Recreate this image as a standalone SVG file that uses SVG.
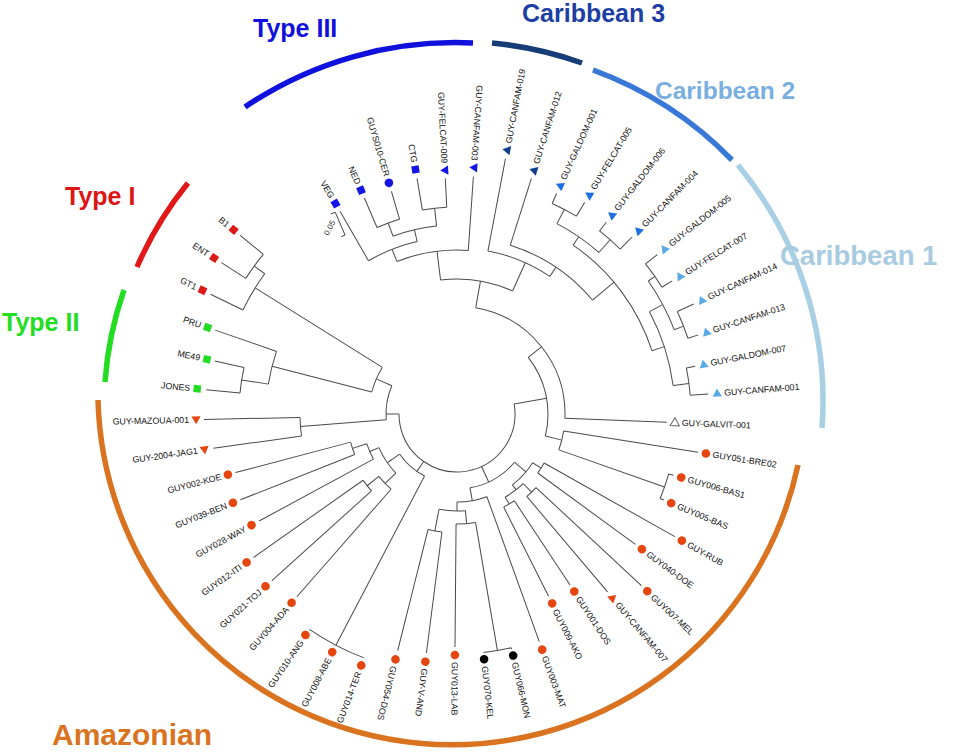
<svg xmlns="http://www.w3.org/2000/svg" xmlns:xlink="http://www.w3.org/1999/xlink" width="957" height="756" viewBox="0 0 957 756">
<style>
text{font-family:"Liberation Sans",Arial,sans-serif}
.lb{font-size:8.8px;fill:#111}
.fl{text-anchor:end}
#connectors line,#connectors circle{fill:none;stroke:#4a4a4a;stroke-width:1}
.t3{fill:#1414e6}.c3{fill:#123f8c}.c2{fill:#1f6ee0}.c1{fill:#5aaae6}.am{fill:#e5450f}.bk{fill:#000}.t1{fill:#dd1a1a}.t2{fill:#22dd22}
.op{fill:none;stroke:#666;stroke-width:1}
.clade{fill:none;stroke-width:5.5}
.cl{font-weight:bold;font-size:25px}
</style>
<defs>
<rect id="sq" x="-3.7" y="-3.7" width="7.4" height="7.4"/>
<circle id="dot" r="4.3"/>
<path id="tri" d="M0,-4.7 L4.6,3.3 L-4.6,3.3Z"/>
</defs>
<rect width="957" height="756" fill="#fff"/>
<g transform="translate(457,414)">
<g id="connectors">
<circle r="58" pathLength="360" stroke-dasharray="190 360" transform="rotate(-10)"/>
<line x1="58" x2="91" transform="rotate(-10)"/>
<line x1="58" x2="71" transform="rotate(180)"/>
<line x1="58" x2="75" transform="rotate(65)"/>
<line x1="58" x2="70" transform="rotate(125)"/>
<circle r="91" pathLength="360" stroke-dasharray="52.5 360" transform="rotate(-38.5)"/>
<line x1="91" x2="108" transform="rotate(-38.5)"/>
<line x1="91" x2="108" transform="rotate(14)"/>
<circle r="108" pathLength="360" stroke-dasharray="82.22 360" transform="rotate(-80)"/>
<line x1="108" x2="210" transform="rotate(2.22)"/>
<line x1="108" x2="135" transform="rotate(-80)"/>
<circle r="135" pathLength="360" stroke-dasharray="31.3 360" transform="rotate(-97)"/>
<line x1="135" x2="164" transform="rotate(-97)"/>
<line x1="135" x2="166" transform="rotate(-65.7)"/>
<circle r="164" pathLength="360" stroke-dasharray="25.45 360" transform="rotate(-111.5)"/>
<line x1="164" x2="177" transform="rotate(-111.5)"/>
<line x1="164" x2="238" transform="rotate(-86.05)"/>
<circle r="177" pathLength="360" stroke-dasharray="17 360" transform="rotate(-120)"/>
<line x1="177" x2="234" transform="rotate(-120)"/>
<line x1="177" x2="189" transform="rotate(-103)"/>
<circle r="189" pathLength="360" stroke-dasharray="13.6 360" transform="rotate(-109.8)"/>
<line x1="189" x2="203" transform="rotate(-109.8)"/>
<line x1="189" x2="207" transform="rotate(-96.2)"/>
<circle r="203" pathLength="360" stroke-dasharray="6.79 360" transform="rotate(-113.21)"/>
<line x1="203" x2="235" transform="rotate(-113.21)"/>
<line x1="203" x2="232" transform="rotate(-106.42)"/>
<circle r="207" pathLength="360" stroke-dasharray="6.79 360" transform="rotate(-99.63)"/>
<line x1="207" x2="239" transform="rotate(-99.63)"/>
<line x1="207" x2="236" transform="rotate(-92.84)"/>
<circle r="166" pathLength="360" stroke-dasharray="23.26 360" transform="rotate(-79.26)"/>
<line x1="166" x2="260" transform="rotate(-79.26)"/>
<line x1="166" x2="177" transform="rotate(-56)"/>
<circle r="177" pathLength="360" stroke-dasharray="32.47 360" transform="rotate(-72.47)"/>
<line x1="177" x2="247" transform="rotate(-72.47)"/>
<line x1="177" x2="205" transform="rotate(-40)"/>
<circle r="205" pathLength="360" stroke-dasharray="37.5 360" transform="rotate(-55.5)"/>
<line x1="205" x2="215" transform="rotate(-55.5)"/>
<line x1="205" x2="218" transform="rotate(-18)"/>
<circle r="215" pathLength="360" stroke-dasharray="13.6 360" transform="rotate(-62.3)"/>
<line x1="215" x2="231" transform="rotate(-62.3)"/>
<line x1="215" x2="232" transform="rotate(-48.7)"/>
<circle r="231" pathLength="360" stroke-dasharray="6.79 360" transform="rotate(-65.68)"/>
<line x1="231" x2="242" transform="rotate(-65.68)"/>
<line x1="231" x2="247" transform="rotate(-58.89)"/>
<circle r="232" pathLength="360" stroke-dasharray="6.79 360" transform="rotate(-52.1)"/>
<line x1="232" x2="243" transform="rotate(-52.1)"/>
<line x1="232" x2="249" transform="rotate(-45.31)"/>
<circle r="218" pathLength="360" stroke-dasharray="20.5 360" transform="rotate(-28)"/>
<line x1="218" x2="233" transform="rotate(-28)"/>
<line x1="218" x2="234" transform="rotate(-7.5)"/>
<circle r="233" pathLength="360" stroke-dasharray="13.6 360" transform="rotate(-34.8)"/>
<line x1="233" x2="241" transform="rotate(-34.8)"/>
<line x1="233" x2="243" transform="rotate(-21.2)"/>
<circle r="241" pathLength="360" stroke-dasharray="6.79 360" transform="rotate(-38.52)"/>
<line x1="241" x2="256" transform="rotate(-38.52)"/>
<line x1="241" x2="253" transform="rotate(-31.73)"/>
<circle r="243" pathLength="360" stroke-dasharray="6.79 360" transform="rotate(-24.94)"/>
<line x1="243" x2="261" transform="rotate(-24.94)"/>
<line x1="243" x2="254" transform="rotate(-18.15)"/>
<circle r="234" pathLength="360" stroke-dasharray="6.79 360" transform="rotate(-11.36)"/>
<line x1="234" x2="243" transform="rotate(-11.36)"/>
<line x1="234" x2="252" transform="rotate(-4.57)"/>
<circle r="108" pathLength="360" stroke-dasharray="10.39 360" transform="rotate(9.01)"/>
<line x1="108" x2="244" transform="rotate(9.01)"/>
<line x1="108" x2="220" transform="rotate(19.4)"/>
<circle r="220" pathLength="360" stroke-dasharray="6.79 360" transform="rotate(15.8)"/>
<line x1="220" x2="225" transform="rotate(15.8)"/>
<line x1="220" x2="224" transform="rotate(22.59)"/>
<circle r="75" pathLength="360" stroke-dasharray="40 360" transform="rotate(40)"/>
<line x1="75" x2="90" transform="rotate(40)"/>
<line x1="75" x2="88" transform="rotate(80)"/>
<circle r="90" pathLength="360" stroke-dasharray="19.2 360" transform="rotate(32.8)"/>
<line x1="90" x2="100" transform="rotate(32.8)"/>
<line x1="90" x2="96" transform="rotate(52)"/>
<circle r="100" pathLength="360" stroke-dasharray="6.79 360" transform="rotate(29.38)"/>
<line x1="100" x2="250" transform="rotate(29.38)"/>
<line x1="100" x2="221" transform="rotate(36.17)"/>
<circle r="96" pathLength="360" stroke-dasharray="13.5 360" transform="rotate(46.4)"/>
<line x1="96" x2="108" transform="rotate(46.4)"/>
<line x1="96" x2="104" transform="rotate(59.9)"/>
<circle r="108" pathLength="360" stroke-dasharray="6.79 360" transform="rotate(42.96)"/>
<line x1="108" x2="252" transform="rotate(42.96)"/>
<line x1="108" x2="233" transform="rotate(49.75)"/>
<circle r="104" pathLength="360" stroke-dasharray="6.79 360" transform="rotate(56.54)"/>
<line x1="104" x2="205" transform="rotate(56.54)"/>
<line x1="104" x2="204" transform="rotate(63.33)"/>
<circle r="88" pathLength="360" stroke-dasharray="19.88 360" transform="rotate(70.12)"/>
<line x1="88" x2="242" transform="rotate(70.12)"/>
<line x1="88" x2="97" transform="rotate(90)"/>
<circle r="97" pathLength="360" stroke-dasharray="15.7 360" transform="rotate(85)"/>
<line x1="97" x2="110" transform="rotate(85)"/>
<line x1="97" x2="119" transform="rotate(100.7)"/>
<circle r="110" pathLength="360" stroke-dasharray="10.19 360" transform="rotate(80.3)"/>
<line x1="110" x2="240" transform="rotate(80.3)"/>
<line x1="110" x2="233" transform="rotate(90.49)"/>
<circle r="240" pathLength="360" stroke-dasharray="6.79 360" transform="rotate(76.91)"/>
<line x1="240" x2="241.5" transform="rotate(76.91)"/>
<circle r="119" pathLength="360" stroke-dasharray="6.79 360" transform="rotate(97.28)"/>
<line x1="119" x2="241" transform="rotate(97.28)"/>
<line x1="119" x2="244" transform="rotate(104.07)"/>
<circle r="70" pathLength="360" stroke-dasharray="27.35 360" transform="rotate(117.65)"/>
<line x1="70" x2="261" transform="rotate(117.65)"/>
<line x1="70" x2="85" transform="rotate(145)"/>
<circle r="261" pathLength="360" stroke-dasharray="13.58 360" transform="rotate(110.86)"/>
<circle r="85" pathLength="360" stroke-dasharray="20.7 360" transform="rotate(136)"/>
<line x1="85" x2="100" transform="rotate(136)"/>
<line x1="85" x2="95" transform="rotate(156.7)"/>
<circle r="100" pathLength="360" stroke-dasharray="10.17 360" transform="rotate(131.23)"/>
<line x1="100" x2="243" transform="rotate(131.23)"/>
<line x1="100" x2="115" transform="rotate(141.4)"/>
<circle r="115" pathLength="360" stroke-dasharray="6.79 360" transform="rotate(138.02)"/>
<line x1="115" x2="249" transform="rotate(138.02)"/>
<line x1="115" x2="249" transform="rotate(144.81)"/>
<circle r="95" pathLength="360" stroke-dasharray="10.2 360" transform="rotate(151.6)"/>
<line x1="95" x2="225" transform="rotate(151.6)"/>
<line x1="95" x2="110" transform="rotate(161.8)"/>
<circle r="110" pathLength="360" stroke-dasharray="6.79 360" transform="rotate(158.39)"/>
<line x1="110" x2="233" transform="rotate(158.39)"/>
<line x1="110" x2="229" transform="rotate(165.18)"/>
<circle r="71" pathLength="360" stroke-dasharray="28.1 360" transform="rotate(175.4)"/>
<line x1="71" x2="157" transform="rotate(175.4)"/>
<line x1="71" x2="88" transform="rotate(203.5)"/>
<circle r="157" pathLength="360" stroke-dasharray="6.79 360" transform="rotate(171.97)"/>
<line x1="157" x2="246" transform="rotate(171.97)"/>
<line x1="157" x2="253" transform="rotate(178.76)"/>
<circle r="88" pathLength="360" stroke-dasharray="17.5 360" transform="rotate(194.5)"/>
<line x1="88" x2="191" transform="rotate(194.5)"/>
<line x1="88" x2="238" transform="rotate(212)"/>
<circle r="191" pathLength="360" stroke-dasharray="10.13 360" transform="rotate(189)"/>
<line x1="191" x2="218" transform="rotate(189)"/>
<line x1="191" x2="256" transform="rotate(199.13)"/>
<circle r="218" pathLength="360" stroke-dasharray="6.79 360" transform="rotate(185.55)"/>
<line x1="218" x2="252" transform="rotate(185.55)"/>
<line x1="218" x2="248" transform="rotate(192.34)"/>
<circle r="238" pathLength="360" stroke-dasharray="10.18 360" transform="rotate(205.92)"/>
<line x1="238" x2="274" transform="rotate(205.92)"/>
<line x1="238" x2="251" transform="rotate(216.1)"/>
<circle r="251" pathLength="360" stroke-dasharray="6.79 360" transform="rotate(212.71)"/>
<line x1="251" x2="280" transform="rotate(212.71)"/>
<line x1="251" x2="281" transform="rotate(219.5)"/>
</g>
<g id="leaf-VEG" transform="rotate(-120)"><use xlink:href="#sq" x="243" class="t3"/><text class="lb fl" transform="translate(250,0) rotate(180)" dy="0.35em">VEG</text></g>
<g id="leaf-NED" transform="rotate(-113.21)"><use xlink:href="#sq" x="243.5" class="t3"/><text class="lb fl" transform="translate(250.5,0) rotate(180)" dy="0.35em">NED</text></g>
<g id="leaf-CER" transform="rotate(-106.42)"><use xlink:href="#dot" x="241" class="t3"/><text class="lb fl" transform="translate(248,0) rotate(180)" dy="0.35em">GUYS010-CER</text></g>
<g id="leaf-CTG" transform="rotate(-99.63)"><use xlink:href="#sq" x="248" class="t3"/><text class="lb fl" transform="translate(255,0) rotate(180)" dy="0.35em">CTG</text></g>
<g id="leaf-FELCAT009" transform="rotate(-92.84)"><use xlink:href="#tri" x="244" class="t3"/><text class="lb fl" transform="translate(251,0) rotate(180)" dy="0.35em">GUY-FELCAT-009</text></g>
<g id="leaf-CANFAM003" transform="rotate(-86.05)"><use xlink:href="#tri" x="247" class="t3"/><text class="lb fl" transform="translate(254,0) rotate(180)" dy="0.35em">GUY-CANFAM-003</text></g>
<g id="leaf-CANFAM019" transform="rotate(-79.26)"><use xlink:href="#tri" x="268.7" class="c3"/><text class="lb" x="275.7" dy="0.35em">GUY-CANFAM-019</text></g>
<g id="leaf-CANFAM012" transform="rotate(-72.47)"><use xlink:href="#tri" x="255.5" class="c3"/><text class="lb" x="262.5" dy="0.35em">GUY-CANFAM-012</text></g>
<g id="leaf-GALDOM001" transform="rotate(-65.68)"><use xlink:href="#tri" x="250.5" class="c2"/><text class="lb" x="257.5" dy="0.35em">GUY-GALDOM-001</text></g>
<g id="leaf-FELCAT005" transform="rotate(-58.89)"><use xlink:href="#tri" x="255.8" class="c2"/><text class="lb" x="262.8" dy="0.35em">GUY-FELCAT-005</text></g>
<g id="leaf-GALDOM006" transform="rotate(-52.1)"><use xlink:href="#tri" x="252" class="c2"/><text class="lb" x="259" dy="0.35em">GUY-GALDOM-006</text></g>
<g id="leaf-CANFAM004" transform="rotate(-45.31)"><use xlink:href="#tri" x="258" class="c2"/><text class="lb" x="265" dy="0.35em">GUY-CANFAM-004</text></g>
<g id="leaf-GALDOM005" transform="rotate(-38.52)"><use xlink:href="#tri" x="265" class="c1"/><text class="lb" x="272" dy="0.35em">GUY-GALDOM-005</text></g>
<g id="leaf-FELCAT007" transform="rotate(-31.73)"><use xlink:href="#tri" x="262" class="c1"/><text class="lb" x="269" dy="0.35em">GUY-FELCAT-007</text></g>
<g id="leaf-CANFAM014" transform="rotate(-24.94)"><use xlink:href="#tri" x="270" class="c1"/><text class="lb" x="277" dy="0.35em">GUY-CANFAM-014</text></g>
<g id="leaf-CANFAM013" transform="rotate(-18.15)"><use xlink:href="#tri" x="262.5" class="c1"/><text class="lb" x="269.5" dy="0.35em">GUY-CANFAM-013</text></g>
<g id="leaf-GALDOM007" transform="rotate(-11.36)"><use xlink:href="#tri" x="251.6" class="c1"/><text class="lb" x="258.6" dy="0.35em">GUY-GALDOM-007</text></g>
<g id="leaf-CANFAM001" transform="rotate(-4.57)"><use xlink:href="#tri" x="261" class="c1"/><text class="lb" x="268" dy="0.35em">GUY-CANFAM-001</text></g>
<g id="leaf-GALVIT001" transform="rotate(2.22)"><use xlink:href="#tri" x="218" class="op"/><text class="lb" x="225" dy="0.35em">GUY-GALVIT-001</text></g>
<g id="leaf-BRE02" transform="rotate(9.01)"><use xlink:href="#dot" x="252" class="am"/><text class="lb" x="259" dy="0.35em">GUY051-BRE02</text></g>
<g id="leaf-BAS1" transform="rotate(15.8)"><use xlink:href="#dot" x="233" class="am"/><text class="lb" x="240" dy="0.35em">GUY006-BAS1</text></g>
<g id="leaf-BAS" transform="rotate(22.59)"><use xlink:href="#dot" x="232" class="am"/><text class="lb" x="239" dy="0.35em">GUY005-BAS</text></g>
<g id="leaf-RUB" transform="rotate(29.38)"><use xlink:href="#dot" x="258" class="am"/><text class="lb" x="265" dy="0.35em">GUY-RUB</text></g>
<g id="leaf-DOE" transform="rotate(36.17)"><use xlink:href="#dot" x="229" class="am"/><text class="lb" x="236" dy="0.35em">GUY040-DOE</text></g>
<g id="leaf-MEL" transform="rotate(42.96)"><use xlink:href="#dot" x="260" class="am"/><text class="lb" x="267" dy="0.35em">GUY007-MEL</text></g>
<g id="leaf-CANFAM007" transform="rotate(49.75)"><use xlink:href="#tri" x="241" class="am"/><text class="lb" x="248" dy="0.35em">GUY-CANFAM-007</text></g>
<g id="leaf-DOS01" transform="rotate(56.54)"><use xlink:href="#dot" x="212.7" class="am"/><text class="lb" x="219.7" dy="0.35em">GUY001-DOS</text></g>
<g id="leaf-AKO" transform="rotate(63.33)"><use xlink:href="#dot" x="212" class="am"/><text class="lb" x="219" dy="0.35em">GUY009-AKO</text></g>
<g id="leaf-MAT" transform="rotate(70.12)"><use xlink:href="#dot" x="250.6" class="am"/><text class="lb" x="257.6" dy="0.35em">GUY003-MAT</text></g>
<g id="leaf-MON" transform="rotate(76.91)"><use xlink:href="#dot" x="248" class="bk"/><text class="lb" x="255" dy="0.35em">GUY066-MON</text></g>
<g id="leaf-KEL" transform="rotate(83.7)"><use xlink:href="#dot" x="246.7" class="bk"/><text class="lb" x="253.7" dy="0.35em">GUY070-KEL</text></g>
<g id="leaf-LAB" transform="rotate(90.49)"><use xlink:href="#dot" x="241" class="am"/><text class="lb" x="248" dy="0.35em">GUY013-LAB</text></g>
<g id="leaf-VAND" transform="rotate(97.28)"><use xlink:href="#dot" x="249.7" class="am"/><text class="lb" x="256.7" dy="0.35em">GUY-V-AND</text></g>
<g id="leaf-DOS54" transform="rotate(104.07)"><use xlink:href="#dot" x="253" class="am"/><text class="lb" x="260" dy="0.35em">GUY054-DOS</text></g>
<g id="leaf-TER" transform="rotate(110.86)"><use xlink:href="#dot" x="269" class="am"/><text class="lb fl" transform="translate(276,0) rotate(180)" dy="0.35em">GUY014-TER</text></g>
<g id="leaf-ABE" transform="rotate(117.65)"><use xlink:href="#dot" x="268.8" class="am"/><text class="lb fl" transform="translate(275.8,0) rotate(180)" dy="0.35em">GUY008-ABE</text></g>
<g id="leaf-ANG" transform="rotate(124.44)"><use xlink:href="#dot" x="268" class="am"/><text class="lb fl" transform="translate(275,0) rotate(180)" dy="0.35em">GUY010-ANG</text></g>
<g id="leaf-ADA" transform="rotate(131.23)"><use xlink:href="#dot" x="251" class="am"/><text class="lb fl" transform="translate(258,0) rotate(180)" dy="0.35em">GUY004-ADA</text></g>
<g id="leaf-TOJ" transform="rotate(138.02)"><use xlink:href="#dot" x="257.6" class="am"/><text class="lb fl" transform="translate(264.6,0) rotate(180)" dy="0.35em">GUY021-TOJ</text></g>
<g id="leaf-ITI" transform="rotate(144.81)"><use xlink:href="#dot" x="257.5" class="am"/><text class="lb fl" transform="translate(264.5,0) rotate(180)" dy="0.35em">GUY012-ITI</text></g>
<g id="leaf-WAY" transform="rotate(151.6)"><use xlink:href="#dot" x="233.6" class="am"/><text class="lb fl" transform="translate(240.6,0) rotate(180)" dy="0.35em">GUY028-WAY</text></g>
<g id="leaf-BEN" transform="rotate(158.39)"><use xlink:href="#dot" x="241" class="am"/><text class="lb fl" transform="translate(248,0) rotate(180)" dy="0.35em">GUY039-BEN</text></g>
<g id="leaf-KOE" transform="rotate(165.18)"><use xlink:href="#dot" x="237" class="am"/><text class="lb fl" transform="translate(244,0) rotate(180)" dy="0.35em">GUY002-KOE</text></g>
<g id="leaf-JAG1" transform="rotate(171.97)"><use xlink:href="#tri" x="255" class="am"/><text class="lb fl" transform="translate(262,0) rotate(180)" dy="0.35em">GUY-2004-JAG1</text></g>
<g id="leaf-MAZOUA" transform="rotate(178.76)"><use xlink:href="#tri" x="261" class="am"/><text class="lb fl" transform="translate(268,0) rotate(180)" dy="0.35em">GUY-MAZOUA-001</text></g>
<g id="leaf-JONES" transform="rotate(185.55)"><use xlink:href="#sq" x="261" class="t2"/><text class="lb fl" transform="translate(268,0) rotate(180)" dy="0.35em">JONES</text></g>
<g id="leaf-ME49" transform="rotate(192.34)"><use xlink:href="#sq" x="256" class="t2"/><text class="lb fl" transform="translate(263,0) rotate(180)" dy="0.35em">ME49</text></g>
<g id="leaf-PRU" transform="rotate(199.13)"><use xlink:href="#sq" x="264" class="t2"/><text class="lb fl" transform="translate(271,0) rotate(180)" dy="0.35em">PRU</text></g>
<g id="leaf-GT1" transform="rotate(205.92)"><use xlink:href="#sq" x="283" class="t1"/><text class="lb fl" transform="translate(290,0) rotate(180)" dy="0.35em">GT1</text></g>
<g id="leaf-ENT" transform="rotate(212.71)"><use xlink:href="#sq" x="288.7" class="t1"/><text class="lb fl" transform="translate(295.7,0) rotate(180)" dy="0.35em">ENT</text></g>
<g id="leaf-B1" transform="rotate(219.5)"><use xlink:href="#sq" x="289.5" class="t1"/><text class="lb fl" transform="translate(296.5,0) rotate(180)" dy="0.35em">B1</text></g>
</g>
<g id="scale-bar">
<path d="M330.7,214 L335.3,212.3 L345,235 L341.3,236.7" fill="none" stroke="#444" stroke-width="1"/>
<text x="332" y="229" font-size="8" fill="#333" text-anchor="middle" transform="rotate(-62 332 229)">0.05</text>
</g>
<g id="clade-TypeIII"><path class="clade" d="M245,107 A375,375 0 0 1 473,43" stroke="#1111dd" stroke-width="6"/><text class="cl" x="253" y="37" fill="#1111dd">Type III</text></g>
<g id="clade-Caribbean3"><path class="clade" d="M492,43 A372,372 0 0 1 582,63" stroke="#163d78"/><text class="cl" x="522" y="22" fill="#1d3fa3">Caribbean 3</text></g>
<g id="clade-Caribbean2"><path class="clade" d="M593,70 A372,372 0 0 1 732,160" stroke="#3a78d8"/><text class="cl" x="655" y="99" fill="#78afe0" style="font-size:24.5px">Caribbean 2</text></g>
<g id="clade-Caribbean1"><path class="clade" d="M738,165 A370,370 0 0 1 822,428" stroke="#a9cfe4"/><text class="cl" x="780" y="265" fill="#a8cbe1" style="font-size:27.5px">Caribbean 1</text></g>
<g id="clade-TypeI"><path class="clade" d="M137,267 A354,354 0 0 1 188,183" stroke="#e01818"/><text class="cl" x="65" y="205" fill="#dd1515">Type I</text></g>
<g id="clade-TypeII"><path class="clade" d="M105,382 A354,354 0 0 1 124,290" stroke="#22dd22"/><text class="cl" x="2" y="331" fill="#22dd22">Type II</text></g>
<g id="clade-Amazonian"><path class="clade" d="M98,400 A354,354 0 0 0 798,465" stroke="#d9731f"/><text class="cl" x="52" y="745" fill="#d9731f" style="font-size:30px">Amazonian</text></g>
</svg>
